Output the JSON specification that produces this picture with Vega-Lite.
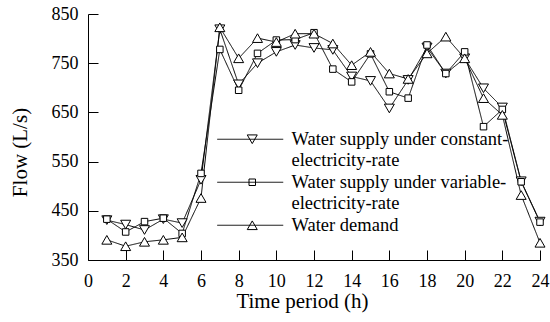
{
  "$schema": "https://vega.github.io/schema/vega-lite/v6.json",
  "width": 452,
  "height": 246,
  "autosize": {"type": "none"},
  "padding": {"left": 88, "top": 14, "right": 10, "bottom": 62},
  "background": "white",
  "config": {"view": {"stroke": null}, "font": "Liberation Serif", "legend": {"symbolBaseStrokeColor": "black"}},
  "data": {"values": [
    {"hour": 1, "series": "Water supply under constant-electricity-rate", "flow": 431},
    {"hour": 2, "series": "Water supply under constant-electricity-rate", "flow": 422},
    {"hour": 3, "series": "Water supply under constant-electricity-rate", "flow": 411},
    {"hour": 4, "series": "Water supply under constant-electricity-rate", "flow": 433},
    {"hour": 5, "series": "Water supply under constant-electricity-rate", "flow": 425},
    {"hour": 6, "series": "Water supply under constant-electricity-rate", "flow": 513},
    {"hour": 7, "series": "Water supply under constant-electricity-rate", "flow": 819},
    {"hour": 8, "series": "Water supply under constant-electricity-rate", "flow": 707},
    {"hour": 9, "series": "Water supply under constant-electricity-rate", "flow": 750},
    {"hour": 10, "series": "Water supply under constant-electricity-rate", "flow": 773},
    {"hour": 11, "series": "Water supply under constant-electricity-rate", "flow": 787},
    {"hour": 12, "series": "Water supply under constant-electricity-rate", "flow": 781},
    {"hour": 13, "series": "Water supply under constant-electricity-rate", "flow": 777},
    {"hour": 14, "series": "Water supply under constant-electricity-rate", "flow": 723},
    {"hour": 15, "series": "Water supply under constant-electricity-rate", "flow": 714},
    {"hour": 16, "series": "Water supply under constant-electricity-rate", "flow": 658},
    {"hour": 17, "series": "Water supply under constant-electricity-rate", "flow": 716},
    {"hour": 18, "series": "Water supply under constant-electricity-rate", "flow": 782},
    {"hour": 19, "series": "Water supply under constant-electricity-rate", "flow": 729},
    {"hour": 20, "series": "Water supply under constant-electricity-rate", "flow": 760},
    {"hour": 21, "series": "Water supply under constant-electricity-rate", "flow": 699},
    {"hour": 22, "series": "Water supply under constant-electricity-rate", "flow": 660},
    {"hour": 23, "series": "Water supply under constant-electricity-rate", "flow": 510},
    {"hour": 24, "series": "Water supply under constant-electricity-rate", "flow": 428},
    {"hour": 1, "series": "Water supply under variable-electricity-rate", "flow": 433},
    {"hour": 2, "series": "Water supply under variable-electricity-rate", "flow": 407},
    {"hour": 3, "series": "Water supply under variable-electricity-rate", "flow": 428},
    {"hour": 4, "series": "Water supply under variable-electricity-rate", "flow": 435},
    {"hour": 5, "series": "Water supply under variable-electricity-rate", "flow": 404},
    {"hour": 6, "series": "Water supply under variable-electricity-rate", "flow": 526},
    {"hour": 7, "series": "Water supply under variable-electricity-rate", "flow": 778},
    {"hour": 8, "series": "Water supply under variable-electricity-rate", "flow": 695},
    {"hour": 9, "series": "Water supply under variable-electricity-rate", "flow": 770},
    {"hour": 10, "series": "Water supply under variable-electricity-rate", "flow": 797},
    {"hour": 11, "series": "Water supply under variable-electricity-rate", "flow": 798},
    {"hour": 12, "series": "Water supply under variable-electricity-rate", "flow": 812},
    {"hour": 13, "series": "Water supply under variable-electricity-rate", "flow": 738},
    {"hour": 14, "series": "Water supply under variable-electricity-rate", "flow": 712},
    {"hour": 15, "series": "Water supply under variable-electricity-rate", "flow": 769},
    {"hour": 16, "series": "Water supply under variable-electricity-rate", "flow": 692},
    {"hour": 17, "series": "Water supply under variable-electricity-rate", "flow": 679},
    {"hour": 18, "series": "Water supply under variable-electricity-rate", "flow": 787},
    {"hour": 19, "series": "Water supply under variable-electricity-rate", "flow": 729},
    {"hour": 20, "series": "Water supply under variable-electricity-rate", "flow": 773},
    {"hour": 21, "series": "Water supply under variable-electricity-rate", "flow": 621},
    {"hour": 22, "series": "Water supply under variable-electricity-rate", "flow": 656},
    {"hour": 23, "series": "Water supply under variable-electricity-rate", "flow": 509},
    {"hour": 24, "series": "Water supply under variable-electricity-rate", "flow": 427},
    {"hour": 1, "series": "Water demand", "flow": 391},
    {"hour": 2, "series": "Water demand", "flow": 378},
    {"hour": 3, "series": "Water demand", "flow": 387},
    {"hour": 4, "series": "Water demand", "flow": 391},
    {"hour": 5, "series": "Water demand", "flow": 396},
    {"hour": 6, "series": "Water demand", "flow": 476},
    {"hour": 7, "series": "Water demand", "flow": 823},
    {"hour": 8, "series": "Water demand", "flow": 760},
    {"hour": 9, "series": "Water demand", "flow": 801},
    {"hour": 10, "series": "Water demand", "flow": 793},
    {"hour": 11, "series": "Water demand", "flow": 810},
    {"hour": 12, "series": "Water demand", "flow": 810},
    {"hour": 13, "series": "Water demand", "flow": 790},
    {"hour": 14, "series": "Water demand", "flow": 746},
    {"hour": 15, "series": "Water demand", "flow": 773},
    {"hour": 16, "series": "Water demand", "flow": 729},
    {"hour": 17, "series": "Water demand", "flow": 718},
    {"hour": 18, "series": "Water demand", "flow": 770},
    {"hour": 19, "series": "Water demand", "flow": 804},
    {"hour": 20, "series": "Water demand", "flow": 760},
    {"hour": 21, "series": "Water demand", "flow": 679},
    {"hour": 22, "series": "Water demand", "flow": 645},
    {"hour": 23, "series": "Water demand", "flow": 482},
    {"hour": 24, "series": "Water demand", "flow": 385}
  ]},
  "encoding": {
    "x": {
      "field": "hour", "type": "quantitative",
      "scale": {"domain": [0, 24], "nice": false},
      "axis": {
        "values": [0, 2, 4, 6, 8, 10, 12, 14, 16, 18, 20, 22, 24],
        "grid": false, "tickSize": -10, "tickColor": "black", "domainColor": "black",
        "labelFont": "Liberation Serif", "labelFontSize": 18, "labelColor": "black",
        "labelFlush": false, "labelOverlap": false, "labelPadding": 22,
        "title": "Time period (h)", "titleFont": "Liberation Serif", "titleFontSize": 21,
        "titleFontWeight": "normal", "titleColor": "black",
        "titleX": 214, "titleY": 47, "titleBaseline": "alphabetic", "titleAlign": "center"
      }
    },
    "y": {
      "field": "flow", "type": "quantitative",
      "scale": {"domain": [350, 850], "nice": false, "zero": false},
      "axis": {
        "values": [350, 450, 550, 650, 750, 850],
        "grid": false, "tickSize": -10, "tickColor": "black", "domainColor": "black",
        "labelFont": "Liberation Serif", "labelFontSize": 18, "labelColor": "black",
        "labelFlush": false, "labelOverlap": false, "labelPadding": 20,
        "title": "Flow (L/s)", "titleFont": "Liberation Serif", "titleFontSize": 21,
        "titleFontWeight": "normal", "titleColor": "black",
        "titleX": -68, "titleY": 138, "titleAngle": -90, "titleBaseline": "middle", "titleAlign": "center"
      }
    }
  },
  "layer": [
    {
      "mark": {"type": "line", "strokeWidth": 1},
      "encoding": {
        "color": {
          "field": "series", "type": "nominal",
          "scale": {
            "domain": ["Water supply under constant-electricity-rate", "Water supply under variable-electricity-rate", "Water demand"],
            "range": ["black", "black", "black"]
          },
          "legend": {
            "title": null, "orient": "none", "legendX": 155, "legendY": 116,
            "padding": 0, "symbolType": "M-5,0H5", "symbolSize": 100, "symbolStrokeWidth": 1,
            "labelOffset": 30, "rowPadding": 3,
            "labelFont": "Liberation Serif", "labelFontSize": 18.5, "labelColor": "black", "labelLimit": 500,
            "labelExpr": "length(datum.label) > 20 ? [slice(datum.label, 0, 28), slice(datum.label, 28)] : datum.label",
            "encode": {
              "symbols": {
                "update": {"fill": {"value": "white"}, "stroke": {"value": "black"}},
                "shape": {"value": {"expr": "datum.value == 'Water demand' ? 'M-5,0H-0.38M0.38,0H5M0,-0.656L0.76,0.656L-0.76,0.656Z' : (indexof(datum.value, 'variable') >= 0 ? 'M-5,0H-0.49M0.49,0H5M-0.49,-0.49H0.49V0.49H-0.49Z' : 'M-5,0H-0.38M0.38,0H5M0,0.656L0.76,-0.656L-0.76,-0.656Z')"}},
                "fill": {"value": "white"},
                "stroke": {"value": "black"}
              }
            }
          }
        },
        "strokeDash": {
          "field": "series", "type": "nominal",
          "scale": {
            "domain": ["Water demand", "Water supply under variable-electricity-rate", "Water supply under constant-electricity-rate"],
            "range": [[1, 0], [1, 0], [1, 0]]
          },
          "legend": {
            "title": null, "orient": "none", "legendX": 153, "legendY": 116,
            "values": ["Water supply under constant-electricity-rate", "Water supply under variable-electricity-rate", "Water demand"],
            "padding": 0, "symbolType": "M-5,0H5", "symbolSize": 174, "symbolStrokeWidth": 1,
            "labelOffset": 28, "rowPadding": 3, "labelOpacity": 0,
            "labelFont": "Liberation Serif", "labelFontSize": 18.5, "labelColor": "black", "labelLimit": 500,
            "labelExpr": "length(datum.label) > 20 ? [slice(datum.label, 0, 28), slice(datum.label, 28)] : datum.label"
          }
        }
      }
    },
    {
      "mark": {"type": "point", "filled": false, "fill": "white", "fillOpacity": 1, "stroke": "black", "strokeWidth": 1, "opacity": 1, "size": 100},
      "encoding": {
        "shape": {
          "field": "series", "type": "nominal",
          "scale": {
            "domain": ["Water supply under constant-electricity-rate", "Water supply under variable-electricity-rate", "Water demand"],
            "range": ["M0,0.866L1,-0.866L-1,-0.866Z", "M-0.65,-0.65H0.65V0.65H-0.65Z", "M0,-0.866L1,0.866L-1,0.866Z"]
          },
          "legend": null
        }
      }
    }
  ]
}
